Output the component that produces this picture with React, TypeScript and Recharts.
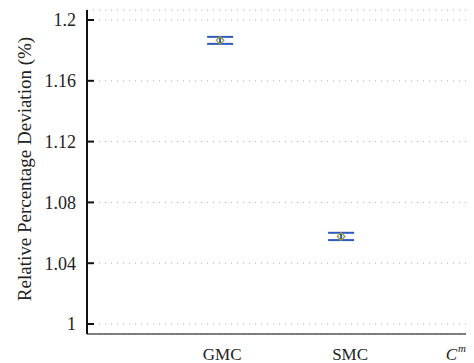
import React from "react";
import { ComposedChart, Scatter, ErrorBar, XAxis, YAxis, CartesianGrid } from "recharts";

const categories = ["GMC", "SMC", "C^m"];
const positions = [1, 2, 3];
const labelShift = [2, 9, -5];
const means = [1.1866, 1.0576];
const errors = [0.0023, 0.0024];
const yTicks = [1, 1.04, 1.08, 1.12, 1.16, 1.2];

const data = means.map((m, i) => ({ x: positions[i], y: m, err: errors[i], name: categories[i] }));

const FONT = "Liberation Serif, Times New Roman, serif";

const Diamond = (props: any) => {
  const { cx, cy } = props;
  if (cx == null || cy == null) return null;
  const r = 3.8;
  return (
    <polygon
      points={`${cx},${cy - r} ${cx + r},${cy} ${cx},${cy + r} ${cx - r},${cy}`}
      fill="none"
      stroke="#999933"
      strokeWidth={1.3}
    />
  );
};

const LeftTick = (props: any) => {
  const { x, y, payload } = props;
  return (
    <g>
      <line x1={x} x2={x + 7} y1={y} y2={y} stroke="#111" strokeWidth={2} />
      <text
        x={x - 11}
        y={y}
        dy="0.35em"
        textAnchor="end"
        fontSize={18}
        fill="#222"
        style={{ fontFamily: FONT }}
      >
        {String(payload.value)}
      </text>
    </g>
  );
};

const RightTick = (props: any) => {
  const { x, y } = props;
  return <line x1={x - 7} x2={x} y1={y} y2={y} stroke="#111" strokeWidth={2} />;
};

const BottomTick = (props: any) => {
  const { x, y, payload } = props;
  const idx = positions.indexOf(payload.value);
  const label = categories[idx];
  const cx = x + labelShift[idx];
  if (label === "C^m") {
    return (
      <g>
        <text x={cx} y={y + 26} textAnchor="end" fontSize={17} fontStyle="italic" fill="#222" style={{ fontFamily: FONT }}>
          C
        </text>
        <text x={cx + 1} y={y + 18} textAnchor="start" fontSize={11} fontStyle="italic" fill="#222" style={{ fontFamily: FONT }}>
          m
        </text>
      </g>
    );
  }
  return (
    <text x={cx} y={y + 26} textAnchor="middle" fontSize={17} fill="#222" style={{ fontFamily: FONT }}>
      {label}
    </text>
  );
};

export default function App() {
  return (
    <ComposedChart
      width={466}
      height={355}
      data={data}
      margin={{ top: 2, right: 0, bottom: 0, left: 0 }}
    >
      <CartesianGrid
        horizontal={true}
        vertical={false}
        stroke="#b0b0b0"
        strokeDasharray="1 5"
        yAxisId="left"
        xAxisId="bottom"
      />
      <XAxis
        xAxisId="bottom"
        type="number"
        dataKey="x"
        domain={[-0.1, 3.09]}
        ticks={positions}
        tick={<BottomTick />}
        tickLine={false}
        tickSize={0}
        tickMargin={0}
        height={29}
        axisLine={{ stroke: "#555", strokeWidth: 1.5 }}
        allowDataOverflow
      />
      <XAxis
        xAxisId="top"
        orientation="top"
        type="number"
        domain={[-0.1, 3.09]}
        height={0}
        tick={false}
        tickLine={false}
        axisLine={{ stroke: "#999", strokeWidth: 1 }}
      />
      <YAxis
        yAxisId="left"
        type="number"
        domain={[1, 1.2]}
        ticks={yTicks}
        padding={{ top: 10, bottom: 10 }}
        width={79}
        tickSize={0}
        tickMargin={0}
        tickLine={false}
        tick={<LeftTick />}
        axisLine={{ stroke: "#111", strokeWidth: 2 }}
        label={{
          value: "Relative Percentage Deviation (%)",
          angle: -90,
          position: "center",
          dx: -23,
          dy: -3,
          style: { fontFamily: FONT, fontSize: 19, fill: "#222", textAnchor: "middle" },
        }}
      />
      <YAxis
        yAxisId="right"
        orientation="right"
        type="number"
        domain={[1, 1.2]}
        ticks={yTicks}
        padding={{ top: 10, bottom: 10 }}
        width={1}
        tickSize={0}
        tickMargin={0}
        tickLine={false}
        tick={<RightTick />}
        axisLine={{ stroke: "#111", strokeWidth: 2 }}
      />
      <Scatter
        xAxisId="bottom"
        yAxisId="left"
        dataKey="y"
        shape={<Diamond />}
        isAnimationActive={false}
      >
        <ErrorBar
          dataKey="err"
          direction="y"
          width={13}
          stroke="#2f5bbf"
          strokeWidth={2}
          isAnimationActive={false}
        />
      </Scatter>
    </ComposedChart>
  );
}
